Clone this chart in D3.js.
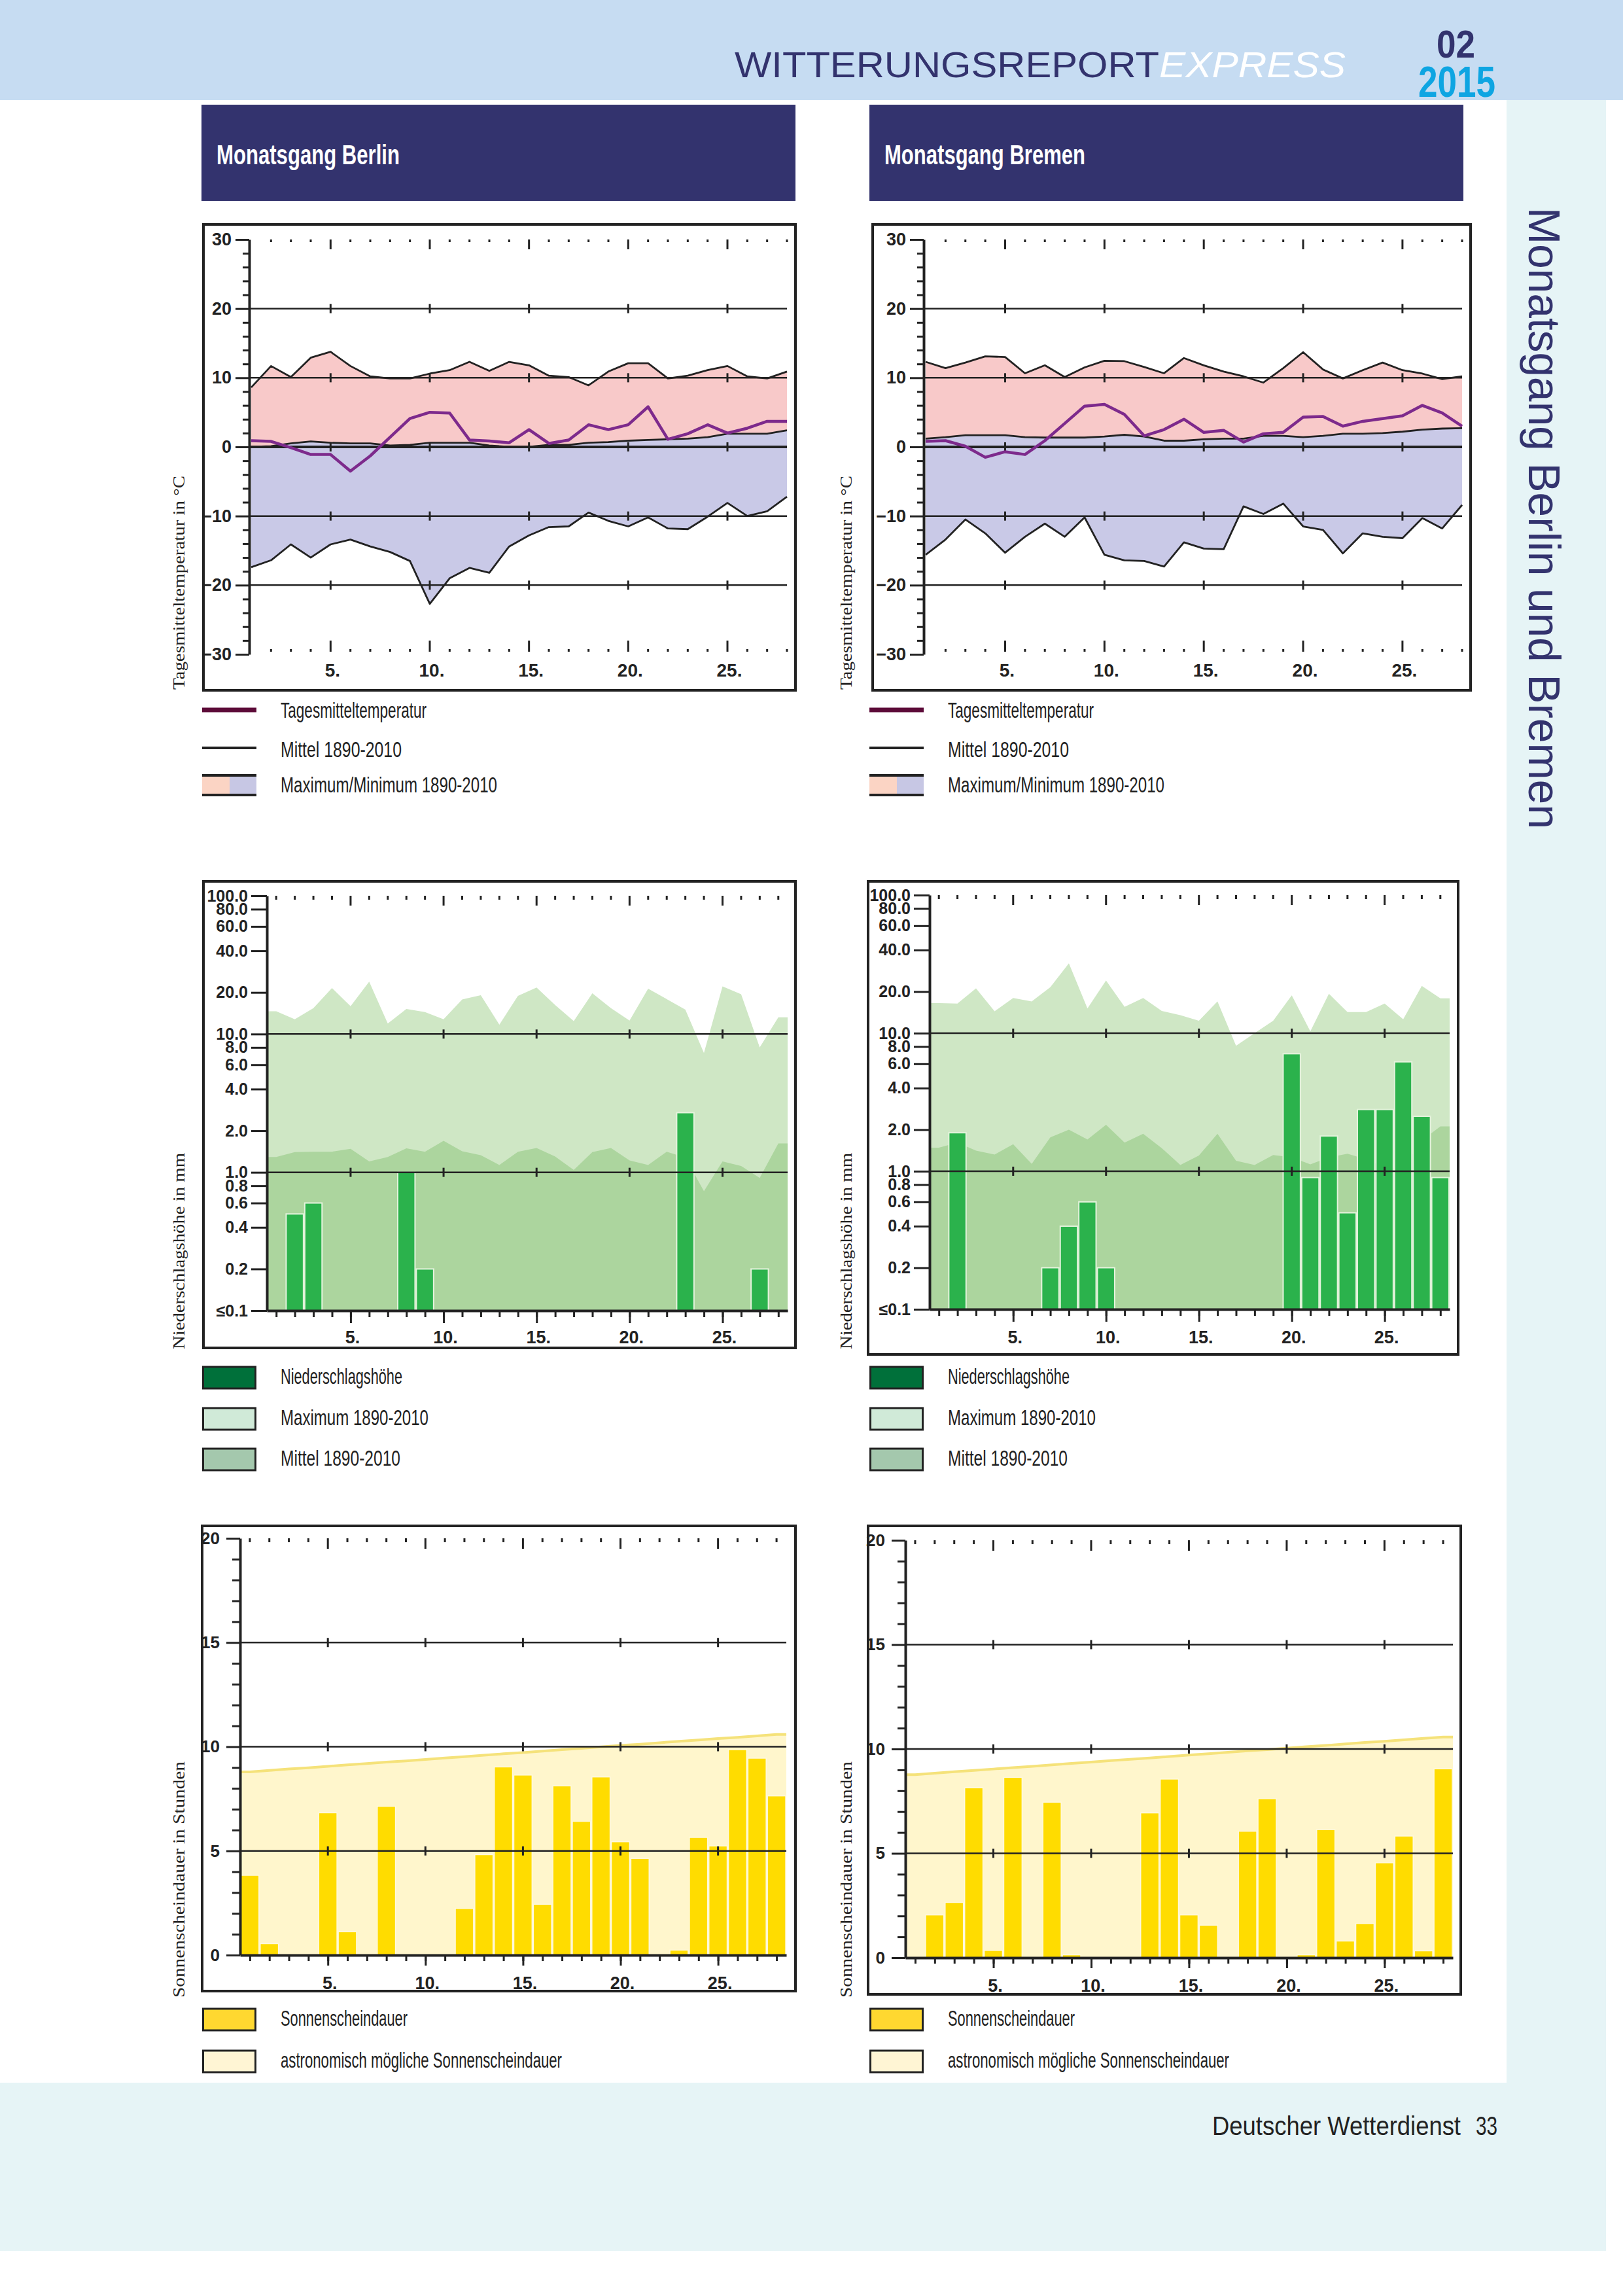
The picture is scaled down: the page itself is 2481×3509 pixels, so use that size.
<!DOCTYPE html>
<html><head><meta charset="utf-8">
<script src="https://cdn.jsdelivr.net/npm/d3@7"></script>
<style>body{margin:0;background:#fff}svg{display:block}</style>
</head><body>
<svg id="page" width="2481" height="3509" xmlns="http://www.w3.org/2000/svg"></svg>
<script>
// ---------------- DATA ----------------
const days = [1,2,3,4,5,6,7,8,9,10,11,12,13,14,15,16,17,18,19,20,21,22,23,24,25,26,27,28];
const dayTicks = [5,10,15,20,25];
const tempTicks = [-30,-20,-10,0,10,20,30];
const tempGrid = [20,10,0,-10,-20];
const precipTicks = [0.1,0.2,0.4,0.6,0.8,1,2,4,6,8,10,20,40,60,80,100];
const precipGrid = [10,1];
const sunTicks = [0,5,10,15,20];
const sunGrid = [15,10,5];

// Berlin temperature (°C)
const berlinTmax  = [8.6,11.7,10.1,12.9,13.75,11.7,10.2,9.9,9.9,10.6,11.1,12.3,11.0,12.3,11.8,10.3,10.1,8.9,10.9,12.1,12.1,9.9,10.3,11.1,11.7,10.2,9.9,10.9];
const berlinTmin  = [-17.4,-16.4,-14.1,-16.0,-14.1,-13.4,-14.4,-15.2,-16.5,-22.7,-19.0,-17.5,-18.2,-14.4,-12.8,-11.6,-11.5,-9.5,-10.7,-11.5,-10.2,-11.8,-11.9,-10.1,-8.1,-10.0,-9.3,-7.2];
const berlinTmean = [0.0,0.1,0.5,0.8,0.6,0.5,0.5,0.2,0.3,0.6,0.6,0.6,0.2,0.0,0.0,0.3,0.3,0.6,0.7,0.9,1.0,1.1,1.2,1.4,1.9,1.9,1.9,2.4];
const berlinTday  = [0.9,0.8,-0.1,-1.1,-1.1,-3.5,-1.3,1.4,4.1,5.0,4.9,1.0,0.85,0.6,2.5,0.5,1.0,3.2,2.5,3.2,5.8,1.1,1.9,3.2,2.0,2.7,3.7,3.7];
// Bremen temperature (°C)
const bremenTmax  = [12.3,11.4,12.2,13.1,13.0,10.65,11.8,10.1,11.5,12.45,12.4,11.55,10.65,12.85,11.8,10.9,10.2,9.3,11.4,13.7,11.2,9.9,11.1,12.2,11.1,10.6,9.8,10.2];
const bremenTmin  = [-15.6,-13.4,-10.5,-12.5,-15.3,-13.0,-11.1,-13.0,-10.2,-15.6,-16.4,-16.5,-17.3,-13.8,-14.7,-14.8,-8.6,-9.7,-8.2,-11.5,-12.0,-15.4,-12.5,-13.0,-13.2,-10.3,-11.8,-8.4];
const bremenTmean = [1.2,1.4,1.7,1.7,1.7,1.4,1.35,1.35,1.35,1.5,1.75,1.5,0.9,0.9,1.1,1.2,1.2,1.6,1.6,1.4,1.6,1.9,1.9,2.0,2.2,2.5,2.65,2.7];
const bremenTday  = [0.8,0.9,0.1,-1.5,-0.7,-1.1,0.9,3.4,5.9,6.15,4.7,1.6,2.5,4.0,2.1,2.4,0.7,1.9,2.1,4.3,4.4,3.0,3.7,4.1,4.5,6.0,4.9,3.0];

// Precipitation (mm)
const berlinP     = [0,0.5,0.6,0,0,0,0,1.0,0.2,0,0,0,0,0,0,0,0,0,0,0,0,0,2.7,0,0,0,0.2,0];
const berlinPmax  = [14.6,12.8,15.4,21.5,15.9,23.9,11.9,15.2,14.4,12.8,17.8,19.1,11.7,18.9,21.7,16.2,12.4,19.7,15.4,12.5,21.3,17.9,15.0,7.3,22.1,19.4,8.0,13.2];
const berlinPmean = [1.29,1.40,1.41,1.41,1.48,1.20,1.29,1.49,1.41,1.69,1.42,1.33,1.13,1.41,1.50,1.30,1.04,1.40,1.50,1.22,1.13,1.41,1.28,0.73,1.20,1.11,0.91,1.62];
const bremenP     = [0,1.9,0,0,0,0,0.2,0.4,0.6,0.2,0,0,0,0,0,0,0,0,0,7.1,0.9,1.8,0.5,2.8,2.8,6.2,2.5,0.9];
const bremenPmax  = [16.5,16.4,21.1,14.4,18.0,17.0,21.5,32.1,15.1,24.1,15.5,18.0,14.5,13.5,12.3,17.0,8.1,10.0,12.3,18.8,10.3,19.3,14.2,14.2,16.4,12.6,22.0,17.9];
const bremenPmean = [1.48,1.61,1.41,1.32,1.57,1.13,1.76,2.00,1.70,2.17,1.61,1.87,1.47,1.11,1.30,1.87,1.19,1.11,1.31,1.26,1.12,1.26,1.34,1.22,1.07,1.05,1.67,2.11];

// Sunshine (h)
const berlinSun   = [3.83,0.55,0,0,6.83,1.12,0,7.14,0,0,0,2.24,4.82,9.03,8.64,2.44,8.12,6.42,8.55,5.44,4.64,0,0.24,5.65,5.24,9.86,9.45,7.64];
const berlinAstro = [8.79,8.86,8.93,8.99,9.06,9.13,9.19,9.26,9.32,9.39,9.46,9.52,9.59,9.66,9.72,9.79,9.86,9.92,9.99,10.06,10.12,10.19,10.26,10.32,10.39,10.45,10.52,10.59];
const bremenSun   = [0,2.05,2.65,8.14,0.35,8.64,0,7.45,0.14,0,0,0,6.94,8.56,2.05,1.56,0,6.06,7.62,0,0.14,6.14,0.8,1.64,4.55,5.83,0.33,9.05];
const bremenAstro = [8.77,8.84,8.91,8.97,9.04,9.11,9.17,9.24,9.31,9.37,9.44,9.51,9.57,9.64,9.71,9.77,9.84,9.91,9.97,10.04,10.11,10.17,10.24,10.31,10.37,10.44,10.51,10.57];

// Texts
const tempLegend = ["Tagesmitteltemperatur","Mittel 1890-2010","Maximum/Minimum 1890-2010"];
const precipLegend = ["Niederschlagshöhe","Maximum 1890-2010","Mittel 1890-2010"];
const sunLegend = ["Sonnenscheindauer","astronomisch mögliche Sonnenscheindauer"];

// ---------------- DRAW ----------------
const SANS = "'Liberation Sans', Arial, Helvetica, sans-serif";
const NARROW = "'Liberation Sans Narrow', 'Liberation Sans', Arial, sans-serif";
const SERIF = "'Liberation Serif', 'Times New Roman', serif";
const INK = "#222";
const svg = d3.select('#page');

// page backgrounds
svg.append('rect').attr('x',0).attr('y',0).attr('width',2481).attr('height',153).attr('fill','#c6dcf2');
svg.append('rect').attr('x',2303).attr('y',153).attr('width',152).attr('height',3030).attr('fill','#e6f4f6');
svg.append('rect').attr('x',0).attr('y',3183).attr('width',2455).attr('height',257).attr('fill','#e6f4f6');

function txt(parent, x, y, s, o) {
  const t = parent.append('text').attr('x',x).attr('y',y).text(s)
    .attr('font-family', o.family || SANS).attr('font-size', o.size)
    .attr('fill', o.fill || INK);
  if (o.weight) t.attr('font-weight', o.weight);
  if (o.style) t.attr('font-style', o.style);
  if (o.len) t.attr('textLength', o.len).attr('lengthAdjust','spacingAndGlyphs');
  if (o.anchor) t.attr('text-anchor', o.anchor);
  if (o.transform) t.attr('transform', o.transform);
  return t;
}

// header
txt(svg, 1123, 118, 'WITTERUNGSREPORT', {size:56, fill:'#33336e', len:649, weight:300});
txt(svg, 1772, 118, 'EXPRESS', {size:56, fill:'#ffffff', len:285, style:'italic', weight:300});
txt(svg, 2196, 88, '02', {size:60, fill:'#33336e', len:59, weight:'bold', family:NARROW});
txt(svg, 2168, 148, '2015', {size:66, fill:'#0ea5e2', len:118, weight:'bold', family:NARROW});
// vertical strip title
txt(svg, 0, 0, 'Monatsgang Berlin und Bremen', {size:68, fill:'#33336e', len:950, family:NARROW,
  transform:'translate(2337,317) rotate(90)'});
// footer
txt(svg, 1853, 3263, 'Deutscher Wetterdienst', {size:41, len:380, family:NARROW});
txt(svg, 2256, 3263, '33', {size:41, len:33, family:NARROW});

// panel title boxes
[[308,'Monatsgang Berlin',280],[1329,'Monatsgang Bremen',307]].forEach(([x0,s,len])=>{
  svg.append('rect').attr('x',x0).attr('y',160).attr('width',908).attr('height',147).attr('fill','#33336e');
  txt(svg, x0+23, 251, s, {size:43, fill:'#ffffff', len:len, family:NARROW, weight:'bold'});
});

function frame(g, c) {
  g.append('rect').attr('x',c.fx0).attr('y',c.fy0).attr('width',c.fx1-c.fx0).attr('height',c.fy1-c.fy0)
    .attr('fill','none').attr('stroke',INK).attr('stroke-width',4);
}
function styleAxis(sel, size) {
  sel.selectAll('text').attr('font-size',size).attr('font-family',NARROW).attr('font-weight','bold').attr('fill',INK);
  sel.selectAll('line').attr('stroke',INK).attr('stroke-width',3);
  sel.select('.domain').attr('stroke',INK).attr('stroke-width',4);
}
function dayRow(g, x, list, y0, minorLen, majorLen, dir) {
  g.append('g').selectAll('line').data(list).join('line')
    .attr('x1',d=>x(d)).attr('x2',d=>x(d))
    .attr('y1',d=>y0 - (dir<0 ? 4 : 0))
    .attr('y2',d=>y0 + dir*(dayTicks.includes(d) ? majorLen : minorLen))
    .attr('stroke',INK).attr('stroke-width',3);
}
function grid(g, x, y, vals, xa, xb, w) {
  vals.forEach(v=>{
    g.append('line').attr('x1',xa).attr('x2',xb).attr('y1',y(v)).attr('y2',y(v))
      .attr('stroke',INK).attr('stroke-width', w(v));
    g.append('g').selectAll('line').data(dayTicks).join('line')
      .attr('x1',d=>x(d)).attr('x2',d=>x(d)).attr('y1',y(v)-7).attr('y2',y(v)+7)
      .attr('stroke',INK).attr('stroke-width',3);
  });
}
function xLabels(g, x, yb, size) {
  g.append('g').selectAll('text').data(dayTicks).join('text')
    .attr('x',d=>x(d)+3).attr('y',yb).attr('text-anchor','middle')
    .attr('font-family',NARROW).attr('font-weight','bold').attr('font-size',size).attr('fill',INK).text(d=>d+'.');
}
function yTitle(s, x, yBottom, len) {
  txt(svg, 0, 0, s, {size:25, family:SERIF, len:len, transform:`translate(${x},${yBottom}) rotate(-90)`});
}

// ---- temperature ----
function drawTemp(c, tmax, tmin, tmean, tday) {
  const g = svg.append('g');
  const x = d3.scaleLinear().domain([1,28]).range([c.xa,c.xb]);
  const y = d3.scaleLinear().domain([-30,30]).range([c.yb,c.yt]);
  const rows = days.map((d,i)=>({d, max:tmax[i], min:tmin[i], mean:tmean[i], day:tday[i]}));
  g.append('path').datum(rows).attr('fill','#f8c9c9')
    .attr('d', d3.area().x(r=>x(r.d)).y0(r=>y(r.mean)).y1(r=>y(r.max)));
  g.append('path').datum(rows).attr('fill','#c9c9e7')
    .attr('d', d3.area().x(r=>x(r.d)).y0(r=>y(r.min)).y1(r=>y(r.mean)));
  grid(g, x, y, tempGrid, c.ax, c.xb, v=> v===0 ? 4 : 2.5);
  const line = k => d3.line().x(r=>x(r.d)).y(r=>y(r[k]));
  ['max','min','mean'].forEach(k=> g.append('path').datum(rows).attr('d',line(k))
    .attr('fill','none').attr('stroke',INK).attr('stroke-width',2.8).attr('stroke-linejoin','round'));
  g.append('path').datum(rows).attr('d',line('day')).attr('fill','none')
    .attr('stroke','#7d2a8c').attr('stroke-width',4.5).attr('stroke-linejoin','round');
  const inner = days.slice(1);
  dayRow(g, x, inner, y(30), 4, 15, 1);
  dayRow(g, x, inner, y(-30), 8, 21, -1);
  const ax = g.append('g').attr('transform',`translate(${c.ax},0)`)
    .call(d3.axisLeft(y).tickValues(tempTicks).tickSize(21).tickSizeOuter(0).tickPadding(6));
  styleAxis(ax, 27);
  const minor = d3.range(-30,31,2).filter(v=>v%10!==0);
  const am = g.append('g').attr('transform',`translate(${c.ax},0)`)
    .call(d3.axisLeft(y).tickValues(minor).tickSize(10).tickFormat(''));
  am.select('.domain').remove(); styleAxis(am, 27);
  xLabels(g, x, c.lblY, 28);
  frame(g, c);
}

// ---- precipitation ----
function drawPrecip(c, p, pmax, pmean) {
  const g = svg.append('g');
  const x = d3.scaleLinear().domain([0.5,28.5]).range([c.xa,c.xb]);
  const y = d3.scaleLog().domain([0.1,100]).range([c.yb,c.yt]).clamp(true);
  const pts = arr => [{d:0.5,v:arr[0]}].concat(days.map((d,i)=>({d,v:arr[i]}))).concat([{d:28.5,v:arr[arr.length-1]}]);
  const ar = d3.area().x(r=>x(r.d)).y0(y(0.1)).y1(r=>y(r.v));
  g.append('path').datum(pts(pmax)).attr('d',ar).attr('fill','#cfe7c5');
  g.append('path').datum(pts(pmean)).attr('d',ar).attr('fill','#acd59e');
  const bars = days.map((d,i)=>({d,v:p[i]})).filter(r=>r.v>=0.1);
  g.append('g').selectAll('rect').data(bars).join('rect')
    .attr('x',r=>x(r.d-0.5)+1).attr('width',r=>x(r.d+0.5)-x(r.d-0.5)-2)
    .attr('y',r=>y(r.v)).attr('height',r=>y(0.1)-y(r.v))
    .attr('fill','#2bb24c').attr('stroke','#e4f3dc').attr('stroke-width',2);
  grid(g, x, y, precipGrid, c.xa, c.xb, ()=>2.5);
  dayRow(g, x, days, y(100), 6, 15, 1);
  const bx = g.append('g').attr('transform',`translate(0,${y(0.1)})`)
    .call(d3.axisBottom(x).tickValues(days).tickSize(10).tickSizeOuter(0).tickFormat(''));
  styleAxis(bx, 24);
  const bx2 = g.append('g').attr('transform',`translate(0,${y(0.1)})`)
    .call(d3.axisBottom(x).tickValues(dayTicks).tickSize(19).tickFormat(''));
  bx2.select('.domain').remove(); styleAxis(bx2, 24);
  const ax = g.append('g').attr('transform',`translate(${c.ax},0)`)
    .call(d3.axisLeft(y).tickValues(precipTicks).tickSize(24).tickSizeOuter(0).tickPadding(5)
      .tickFormat(v=> v===0.1 ? '≤0.1' : d3.format('.1f')(v)));
  styleAxis(ax, 25);
  xLabels(g, x, c.lblY, 27);
  frame(g, c);
}

// ---- sunshine ----
function drawSun(c, sun, astro) {
  const g = svg.append('g');
  const x = d3.scaleLinear().domain([0.5,28.5]).range([c.xa,c.xb]);
  const y = d3.scaleLinear().domain([0,20]).range([c.yb,c.yt]);
  const pts = [{d:0.5,v:astro[0]}].concat(days.map((d,i)=>({d,v:astro[i]}))).concat([{d:28.5,v:astro[astro.length-1]}]);
  g.append('path').datum(pts).attr('fill','#fff6cc')
    .attr('d', d3.area().x(r=>x(r.d)).y0(y(0)).y1(r=>y(r.v)));
  const bars = days.map((d,i)=>({d,v:sun[i]})).filter(r=>r.v>0);
  g.append('g').selectAll('rect').data(bars).join('rect')
    .attr('x',r=>x(r.d-0.5)+1).attr('width',r=>x(r.d+0.5)-x(r.d-0.5)-2)
    .attr('y',r=>y(r.v)).attr('height',r=>y(0)-y(r.v))
    .attr('fill','#ffdc00').attr('stroke','#fff9de').attr('stroke-width',1.5);
  g.append('path').datum(pts).attr('fill','none').attr('stroke','#f5e27a').attr('stroke-width',4)
    .attr('d', d3.line().x(r=>x(r.d)).y(r=>y(r.v)));
  grid(g, x, y, sunGrid, c.xa, c.xb, ()=>2.5);
  dayRow(g, x, days, y(20), 6, 16, 1);
  const bx = g.append('g').attr('transform',`translate(0,${y(0)})`)
    .call(d3.axisBottom(x).tickValues(days).tickSize(9).tickSizeOuter(0).tickFormat(''));
  styleAxis(bx, 24);
  const bx2 = g.append('g').attr('transform',`translate(0,${y(0)})`)
    .call(d3.axisBottom(x).tickValues(dayTicks).tickSize(16).tickFormat(''));
  bx2.select('.domain').remove(); styleAxis(bx2, 24);
  const ax = g.append('g').attr('transform',`translate(${c.ax},0)`)
    .call(d3.axisLeft(y).tickValues(sunTicks).tickSize(21).tickSizeOuter(0).tickPadding(10));
  styleAxis(ax, 26);
  const minor = d3.range(0,21,1).filter(v=>v%5!==0);
  const am = g.append('g').attr('transform',`translate(${c.ax},0)`)
    .call(d3.axisLeft(y).tickValues(minor).tickSize(12).tickFormat(''));
  am.select('.domain').remove(); styleAxis(am, 26);
  xLabels(g, x, c.lblY, 27);
  frame(g, c);
}

// ---- legends ----
function legendTemp(x0) {
  const g = svg.append('g');
  g.append('line').attr('x1',x0).attr('x2',x0+83).attr('y1',1085).attr('y2',1085).attr('stroke','#5c0b38').attr('stroke-width',7);
  g.append('line').attr('x1',x0).attr('x2',x0+83).attr('y1',1143).attr('y2',1143).attr('stroke',INK).attr('stroke-width',4);
  g.append('rect').attr('x',x0).attr('y',1185).attr('width',42).attr('height',30).attr('fill','#fbd4c4');
  g.append('rect').attr('x',x0+42).attr('y',1185).attr('width',41).attr('height',30).attr('fill','#c7c7e4');
  [1185,1215].forEach(yy=> g.append('line').attr('x1',x0).attr('x2',x0+83).attr('y1',yy).attr('y2',yy).attr('stroke',INK).attr('stroke-width',4));
  const lens = [223,185,331], ys = [1097,1157,1211];
  tempLegend.forEach((s,i)=> txt(g, x0+120, ys[i], s, {size:34, family:NARROW, len:lens[i], weight:300}));
}
function legendBoxes(x0, labels, tops, fills, lens) {
  const g = svg.append('g');
  labels.forEach((s,i)=>{
    g.append('rect').attr('x',x0+1.5).attr('y',tops[i]).attr('width',80).attr('height',33)
      .attr('fill',fills[i]).attr('stroke',INK).attr('stroke-width',3);
    txt(g, x0+120, tops[i]+26, s, {size:34, family:NARROW, len:lens[i], weight:300});
  });
}

const cfgBerlinTemp  = {fx0:311, fy0:343, fx1:1216, fy1:1055, ax:381, xa:384, xb:1203, yt:366, yb:1000, lblY:1034};
const cfgBremenTemp  = {fx0:1334, fy0:343, fx1:2248, fy1:1055, ax:1412, xa:1415, xb:2235, yt:366, yb:1000, lblY:1034};
const cfgBerlinPrec  = {fx0:311, fy0:1347, fx1:1216, fy1:2060, ax:408, xa:408, xb:1204, yt:1369, yb:2003, lblY:2053};
const cfgBremenPrec  = {fx0:1327, fy0:1347, fx1:2229, fy1:2070, ax:1421, xa:1421, xb:2216, yt:1368, yb:2001, lblY:2053};
const cfgBerlinSun   = {fx0:309, fy0:2332, fx1:1216, fy1:3043, ax:367, xa:367, xb:1202, yt:2351, yb:2988, lblY:3040};
const cfgBremenSun   = {fx0:1327, fy0:2332, fx1:2233, fy1:3048, ax:1384, xa:1384, xb:2221, yt:2354, yb:2992, lblY:3044};

drawTemp(cfgBerlinTemp, berlinTmax, berlinTmin, berlinTmean, berlinTday);
drawTemp(cfgBremenTemp, bremenTmax, bremenTmin, bremenTmean, bremenTday);
drawPrecip(cfgBerlinPrec, berlinP, berlinPmax, berlinPmean);
drawPrecip(cfgBremenPrec, bremenP, bremenPmax, bremenPmean);
drawSun(cfgBerlinSun, berlinSun, berlinAstro);
drawSun(cfgBremenSun, bremenSun, bremenAstro);

[[309,282],[1329,1302]].forEach(([x0,tx])=>{
  legendTemp(x0);
  legendBoxes(x0, precipLegend, [2089,2152,2214], ['#00703a','#d0ead8','#a4c8ad'], [186,226,183]);
  legendBoxes(x0, sunLegend, [3070,3134], ['#ffd830','#fff5d4'], [194,430]);
  yTitle('Tagesmitteltemperatur in °C', tx, 1054, 327);
  yTitle('Niederschlagshöhe in mm', tx, 2062, 300);
  yTitle('Sonnenscheindauer in Stunden', tx, 3053, 361);
});
</script>
</body></html>
